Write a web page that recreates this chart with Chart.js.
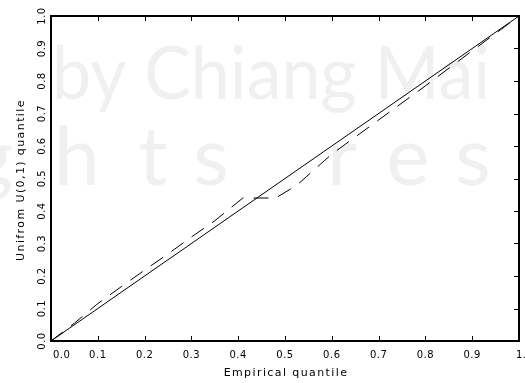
<!DOCTYPE html>
<html>
<head>
<meta charset="utf-8">
<script src="https://cdn.jsdelivr.net/npm/chart.js@4.4.0/dist/chart.umd.min.js"></script>
<style>
  html, body { margin: 0; padding: 0; background: #fff; }
  #wrap { width: 525px; height: 383px; }
</style>
</head>
<body>
<div id="wrap"><canvas id="qqChart" width="525" height="383"></canvas></div>
<script>
// QQ plot data
const empiricalQuantile = [0, 0.05, 0.1, 0.15, 0.2, 0.25, 0.3, 0.35, 0.41, 0.48, 0.525, 0.6, 0.7, 0.8, 0.9, 0.96, 1.0];
const uniformQuantile = [0, 0.055, 0.115, 0.167, 0.218, 0.268, 0.32, 0.37, 0.44, 0.44, 0.479, 0.575, 0.68, 0.785, 0.893, 0.957, 1.0];

// reference line y = x
const diagX = [0, 1];
const diagY = [0, 1];

const tickValues = [0, 0.1, 0.2, 0.3, 0.4, 0.5, 0.6, 0.7, 0.8, 0.9, 1.0];
const xTickLabels = ["0.0", "0.1", "0.2", "0.3", "0.4", "0.5", "0.6", "0.7", "0.8", "0.9", "1.0"];
const yTickLabels = ["0.0", "0.1", "0.2", "0.3", "0.4", "0.5", "0.6", "0.7", "0.8", "0.9", "1.0"];
const xTitle = "Empirical quantile";
const yTitle = "Unifrom U(0,1) quantile";

function toPoints(xs, ys) {
    return xs.map((x, i) => ({ x: x, y: ys[i] }));
}

// faint background watermark
const watermark = {
    id: "watermark",
    beforeDraw(chart) {
        const ctx = chart.ctx;
        ctx.save();
        ctx.fillStyle = "#fff";
        ctx.fillRect(0, 0, chart.width, chart.height);
        ctx.fillStyle = "#f0f0f0";
        ctx.textBaseline = "alphabetic";
        ctx.textAlign = "left";
        ctx.font = "74px Lato";
        const line = "by Chiang Mai";
        const w = ctx.measureText(line).width;
        ctx.translate(52, 99);
        ctx.scale(438 / w, 1);
        ctx.fillText(line, 0, 0);
        ctx.restore();

        ctx.save();
        ctx.fillStyle = "#f0f0f0";
        ctx.font = "82px Lato";
        ctx.textAlign = "center";
        const letters = [["g", -8], ["h", 77], ["t", 153], ["s", 211], ["r", 342], ["e", 408], ["s", 473]];
        letters.forEach(function (l) {
            ctx.fillText(l[0], l[1], 185);
        });
        ctx.restore();
    }
};

// frame, inward ticks, labels and titles
const frame = {
    id: "frame",
    afterDraw(chart) {
        const ctx = chart.ctx;
        const xs = chart.scales.x;
        const ys = chart.scales.y;
        const a = chart.chartArea;
        ctx.save();

        ctx.strokeStyle = "#000";
        ctx.lineWidth = 1;
        tickValues.forEach(function (v, i) {
            if (i === 0 || i === tickValues.length - 1) return;
            const px = Math.round(xs.getPixelForValue(v)) + 0.5;
            const py = Math.round(ys.getPixelForValue(v)) + 0.5;
            ctx.beginPath();
            ctx.moveTo(px, a.bottom); ctx.lineTo(px, a.bottom - 5);
            ctx.moveTo(px, a.top); ctx.lineTo(px, a.top + 5);
            ctx.moveTo(a.right, py); ctx.lineTo(a.right - 5, py);
            ctx.stroke();
        });

        ctx.lineWidth = 2;
        ctx.strokeRect(a.left, a.top, a.right - a.left, a.bottom - a.top);

        ctx.fillStyle = "#000";
        ctx.font = "10px 'DejaVu Sans'";
        ctx.letterSpacing = "0.5px";
        ctx.textBaseline = "middle";
        xTickLabels.forEach(function (t, i) {
            const px = xs.getPixelForValue(tickValues[i]);
            if (i === 0) {
                ctx.textAlign = "left";
                ctx.fillText(t, px + 2, 355);
            } else if (i === xTickLabels.length - 1) {
                ctx.textAlign = "left";
                ctx.fillText(t, px - 3, 355);
            } else {
                ctx.textAlign = "center";
                ctx.fillText(t, px, 355);
            }
        });
        yTickLabels.forEach(function (t, i) {
            const py = ys.getPixelForValue(tickValues[i]);
            ctx.save();
            ctx.translate(42, py);
            ctx.rotate(-Math.PI / 2);
            ctx.textAlign = "center";
            ctx.fillText(t, 0, 0);
            ctx.restore();
        });

        ctx.font = "11px 'DejaVu Sans'";
        ctx.letterSpacing = "1.4px";
        ctx.textAlign = "center";
        ctx.fillText(xTitle, (a.left + a.right) / 2 + 1, 373);
        ctx.save();
        ctx.translate(21, 180);
        ctx.rotate(-Math.PI / 2);
        ctx.fillText(yTitle, 0, 0);
        ctx.restore();

        ctx.restore();
    }
};

const ctx = document.getElementById("qqChart").getContext("2d");
const qqChart = new Chart(ctx, {
    type: "scatter",
    data: {
        datasets: [
            {
                label: "y = x",
                data: toPoints(diagX, diagY),
                showLine: true,
                borderColor: "#000",
                borderWidth: 1,
                pointRadius: 0
            },
            {
                label: "QQ",
                data: toPoints(empiricalQuantile, uniformQuantile),
                showLine: true,
                borderColor: "#000",
                borderWidth: 1,
                borderDash: [15, 10],
                pointRadius: 0
            }
        ]
    },
    options: {
        responsive: false,
        devicePixelRatio: 1,
        animation: false,
        layout: { padding: { left: 51, right: 6, top: 16, bottom: 42 } },
        plugins: {
            legend: { display: false },
            tooltip: { enabled: false }
        },
        scales: {
            x: { type: "linear", min: 0, max: 1, display: false },
            y: { type: "linear", min: 0, max: 1, display: false }
        }
    },
    plugins: [watermark, frame]
});
</script>
</body>
</html>
